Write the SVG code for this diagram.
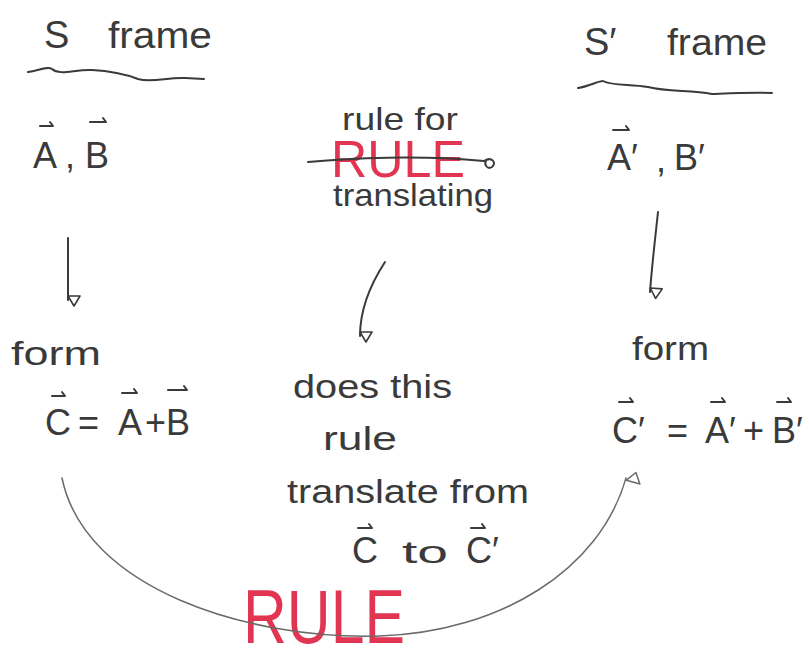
<svg xmlns="http://www.w3.org/2000/svg" width="809" height="660" viewBox="0 0 809 660">
<style>
.t{font-family:"Liberation Sans","DejaVu Sans",sans-serif;fill:#3a3a3a;}
.r{font-family:"Liberation Sans","DejaVu Sans",sans-serif;fill:#e23552;}
.ln{fill:none;stroke:#3a3a3a;stroke-width:2;stroke-linecap:round;stroke-linejoin:round;}
.thin{fill:none;stroke:#6a6a6a;stroke-width:1.5;stroke-linecap:round;}
.vec{fill:none;stroke:#3a3a3a;stroke-width:2;stroke-linecap:round;stroke-linejoin:round;}
</style>
<defs>
<marker id="ah" markerWidth="16" markerHeight="16" refX="8" refY="14" orient="auto" markerUnits="userSpaceOnUse" viewBox="0 0 16 16">
<path d="M2,4 L8,14 L14,4 Z" fill="none" stroke="#3a3a3a" stroke-width="1.6" stroke-linejoin="round" transform="rotate(-90 8 8)"/>
</marker>
<marker id="ah2" markerWidth="20" markerHeight="20" refX="10" refY="2" orient="auto" markerUnits="userSpaceOnUse" viewBox="0 0 20 20">
<path d="M3,12 L10,2 L17,12 Z" fill="none" stroke="#6a6a6a" stroke-width="1.5" stroke-linejoin="round" transform="rotate(90 10 10)"/>
</marker>
</defs>

<g id="s-frame">
<text class="t" x="44" y="48" font-size="38">S</text>
<text class="t" x="108" y="48" font-size="36" textLength="104" lengthAdjust="spacingAndGlyphs">frame</text>
<path class="ln" d="M28,72 C40,70 48,66 52,69 C60,76 75,69 92,70 C112,71 125,74 138,79 C152,83 168,77 185,78 L204,79"/>
</g>

<g id="s-vectors">
<text class="t" x="33" y="168" font-size="36">A</text>
<text class="t" x="65" y="168" font-size="36">,</text>
<text class="t" x="85" y="168" font-size="36">B</text>
<path class="vec" d="M40,126 L53,126 L50,122 M90,122 L106,122 L103,118"/>
</g>

<g id="s-prime-frame">
<text class="t" x="584" y="55" font-size="38">S′</text>
<text class="t" x="667" y="55" font-size="36" textLength="100" lengthAdjust="spacingAndGlyphs">frame</text>
<path class="ln" d="M578,88 C590,86 598,81 603,81 C612,86 630,84 648,87 C668,92 690,90 712,94 C735,93 752,92 772,93"/>
</g>

<g id="s-prime-vectors">
<text class="t" x="607" y="170" font-size="36">A′</text>
<text class="t" x="656" y="172" font-size="36">,</text>
<text class="t" x="674" y="170" font-size="36">B′</text>
<path class="vec" d="M613,130 L629,130 L626,126"/>
</g>

<g id="rule-for-translating">
<text class="t" x="342" y="130" font-size="32" textLength="116" lengthAdjust="spacingAndGlyphs">rule for</text>
<text class="r" x="331" y="177" font-size="52" textLength="134" lengthAdjust="spacingAndGlyphs">RULE</text>
<path class="ln" d="M308,162 C350,158 420,155 484,161 M484,161 C492,156 497,163 492,167 C487,170 484,164 486,161"/>
<text class="t" x="333" y="206" font-size="32" textLength="160" lengthAdjust="spacingAndGlyphs">translating</text>
</g>

<g id="s-form">
<text class="t" x="11" y="365" font-size="34" textLength="90" lengthAdjust="spacingAndGlyphs">form</text>
<text class="t" x="45" y="435" font-size="36">C</text>
<text class="t" x="78" y="435" font-size="36">=</text>
<text class="t" x="118" y="435" font-size="36">A</text>
<text class="t" x="145" y="435" font-size="36">+</text>
<text class="t" x="166" y="435" font-size="36">B</text>
<path class="vec" d="M52,396 L65,396 L62,392 M122,393 L137,393 L134,389 M168,390 L187,390 L184,386"/>
</g>

<g id="question">
<text class="t" x="293" y="398" font-size="34" textLength="159" lengthAdjust="spacingAndGlyphs">does this</text>
<text class="t" x="323" y="450" font-size="34" textLength="74" lengthAdjust="spacingAndGlyphs">rule</text>
<text class="t" x="287" y="503" font-size="34" textLength="242" lengthAdjust="spacingAndGlyphs">translate from</text>
<text class="t" x="352" y="563" font-size="36">C</text>
<text class="t" x="402" y="563" font-size="32" textLength="46" lengthAdjust="spacingAndGlyphs">to</text>
<text class="t" x="466" y="563" font-size="36">C′</text>
<path class="vec" d="M358,528 L372,528 L369,524 M471,528 L485,528 L482,524"/>
</g>

<g id="s-prime-form">
<text class="t" x="632" y="360" font-size="34" textLength="77" lengthAdjust="spacingAndGlyphs">form</text>
<text class="t" x="612" y="443" font-size="36">C′</text>
<text class="t" x="667" y="443" font-size="36">=</text>
<text class="t" x="705" y="443" font-size="36">A′</text>
<text class="t" x="743" y="443" font-size="36">+</text>
<text class="t" x="772" y="443" font-size="36">B′</text>
<path class="vec" d="M619,402 L633,402 L630,398 M711,402 L725,402 L722,398 M777,402 L791,402 L788,398"/>
</g>

<g id="rule-label">
<text class="r" x="243" y="643" font-size="76" textLength="162" lengthAdjust="spacingAndGlyphs">RULE</text>
</g>

<g id="connectors">
<path class="ln" d="M68,238 L68,300" marker-end="url(#ah)"/>
<path class="ln" d="M385,262 C370,285 360,310 360,336" marker-end="url(#ah)"/>
<path class="ln" d="M658,212 C655,240 652,265 650,292" marker-end="url(#ah)"/>
<path class="thin" d="M62,478 C85,590 250,640 380,636 C500,632 600,570 626,478" marker-end="url(#ah2)"/>
</g>
</svg>
